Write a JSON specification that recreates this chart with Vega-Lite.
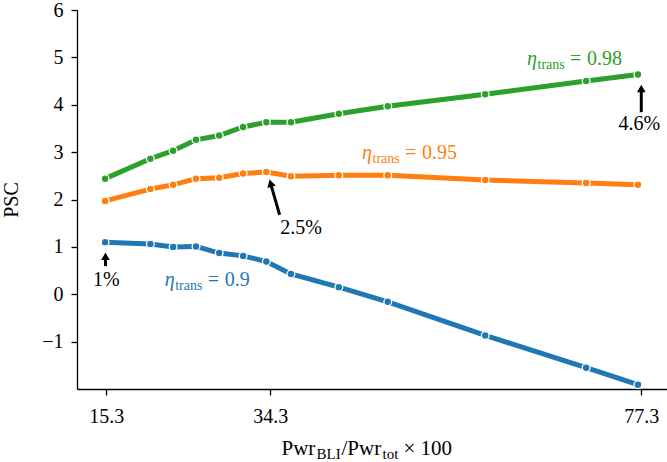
{
  "$schema": "https://vega.github.io/schema/vega-lite/v6.json",
  "width": 590,
  "height": 379,
  "autosize": {"type": "none"},
  "padding": {"left": 77, "top": 10, "right": 0, "bottom": 73},
  "background": "white",
  "config": {
    "view": {"stroke": null},
    "font": "Liberation Serif",
    "text": {"font": "Liberation Serif"},
    "axis": {
      "labelFont": "Liberation Serif",
      "titleFont": "Liberation Serif",
      "labelFontSize": 20,
      "titleFontSize": 20,
      "titleFontWeight": "normal",
      "labelColor": "black",
      "titleColor": "black",
      "domainColor": "black",
      "tickColor": "black",
      "domainWidth": 1.3,
      "tickWidth": 1.3,
      "tickSize": 6,
      "grid": false
    }
  },
  "datasets": {
    "series": [
      {"x": 15.16, "y": 1.10, "eta": "0.9"},
      {"x": 20.40, "y": 1.06, "eta": "0.9"},
      {"x": 23.04, "y": 1.00, "eta": "0.9"},
      {"x": 25.69, "y": 1.01, "eta": "0.9"},
      {"x": 28.38, "y": 0.87, "eta": "0.9"},
      {"x": 31.15, "y": 0.81, "eta": "0.9"},
      {"x": 33.84, "y": 0.69, "eta": "0.9"},
      {"x": 36.69, "y": 0.43, "eta": "0.9"},
      {"x": 42.24, "y": 0.15, "eta": "0.9"},
      {"x": 47.91, "y": -0.16, "eta": "0.9"},
      {"x": 59.21, "y": -0.87, "eta": "0.9"},
      {"x": 70.90, "y": -1.55, "eta": "0.9"},
      {"x": 76.90, "y": -1.91, "eta": "0.9"},
      {"x": 15.16, "y": 1.97, "eta": "0.95"},
      {"x": 20.40, "y": 2.22, "eta": "0.95"},
      {"x": 23.04, "y": 2.31, "eta": "0.95"},
      {"x": 25.69, "y": 2.44, "eta": "0.95"},
      {"x": 28.38, "y": 2.46, "eta": "0.95"},
      {"x": 31.15, "y": 2.55, "eta": "0.95"},
      {"x": 33.84, "y": 2.58, "eta": "0.95"},
      {"x": 36.69, "y": 2.49, "eta": "0.95"},
      {"x": 42.24, "y": 2.51, "eta": "0.95"},
      {"x": 47.91, "y": 2.51, "eta": "0.95"},
      {"x": 59.21, "y": 2.41, "eta": "0.95"},
      {"x": 70.90, "y": 2.35, "eta": "0.95"},
      {"x": 76.90, "y": 2.31, "eta": "0.95"},
      {"x": 15.16, "y": 2.44, "eta": "0.98"},
      {"x": 20.40, "y": 2.86, "eta": "0.98"},
      {"x": 23.04, "y": 3.03, "eta": "0.98"},
      {"x": 25.69, "y": 3.26, "eta": "0.98"},
      {"x": 28.38, "y": 3.35, "eta": "0.98"},
      {"x": 31.15, "y": 3.53, "eta": "0.98"},
      {"x": 33.84, "y": 3.63, "eta": "0.98"},
      {"x": 36.69, "y": 3.63, "eta": "0.98"},
      {"x": 42.24, "y": 3.81, "eta": "0.98"},
      {"x": 47.91, "y": 3.97, "eta": "0.98"},
      {"x": 59.21, "y": 4.22, "eta": "0.98"},
      {"x": 70.90, "y": 4.50, "eta": "0.98"},
      {"x": 76.90, "y": 4.64, "eta": "0.98"}
    ],
    "arrows": [
      {"id": "a1", "x": 15.2, "y": 0.594, "x2": 15.2, "y2": 0.78, "hx": 15.2, "hy": 0.8},
      {"id": "a2", "x": 35.38, "y": 1.677, "x2": 34.35, "y2": 2.331, "hx": 34.33, "hy": 2.345},
      {"id": "a3", "x": 77.29, "y": 3.843, "x2": 77.29, "y2": 4.32, "hx": 77.29, "hy": 4.345}
    ],
    "notes": [
      {"x": 13.75, "y": 0.174, "text": "1%"},
      {"x": 35.46, "y": 1.270, "text": "2.5%"},
      {"x": 74.66, "y": 3.459, "text": "4.6%"}
    ],
    "labels": [
      {"x": 22.06, "y": 0.174, "eta": "0.9", "value": "0.9"},
      {"x": 44.93, "y": 2.864, "eta": "0.95", "value": "0.95"},
      {"x": 64.05, "y": 4.834, "eta": "0.98", "value": "0.98"}
    ],
    "xtitle": [
      {"x": 35.6, "y": -3.4}
    ]
  },
  "layer": [
    {
      "data": {"name": "series"},
      "mark": {"type": "line", "strokeWidth": 5},
      "encoding": {
        "x": {
          "field": "x", "type": "quantitative",
          "scale": {"domain": [11.9, 80.27], "nice": false, "zero": false},
          "axis": {"values": [15.3, 34.3, 77.3], "format": ".1f", "title": null, "labelPadding": 11}
        },
        "y": {
          "field": "y", "type": "quantitative",
          "scale": {"domain": [-2, 6], "nice": false, "zero": false},
          "axis": {"values": [-1, 0, 1, 2, 3, 4, 5, 6], "title": "PSC", "labelPadding": 8, "titlePadding": 20}
        },
        "color": {
          "field": "eta", "type": "nominal",
          "scale": {"domain": ["0.9", "0.95", "0.98"], "range": ["#1f77b4", "#ff7f0e", "#2ca02c"]},
          "legend": null
        }
      }
    },
    {
      "data": {"name": "series"},
      "mark": {"type": "point", "filled": true, "size": 60, "stroke": "white", "strokeWidth": 1.3, "opacity": 1},
      "encoding": {
        "x": {"field": "x", "type": "quantitative"},
        "y": {"field": "y", "type": "quantitative"},
        "color": {"field": "eta", "type": "nominal", "legend": null}
      }
    },
    {
      "data": {"name": "arrows"},
      "mark": {"type": "rule", "strokeWidth": 3, "color": "black"},
      "encoding": {
        "x": {"field": "x", "type": "quantitative"},
        "y": {"field": "y", "type": "quantitative"},
        "x2": {"field": "x2"},
        "y2": {"field": "y2"}
      }
    },
    {
      "data": {"name": "arrows"},
      "transform": [{"filter": "datum.id !== 'a2'"}],
      "mark": {"type": "point", "shape": "triangle-up", "filled": true, "size": 75, "color": "black", "opacity": 1},
      "encoding": {
        "x": {"field": "hx", "type": "quantitative"},
        "y": {"field": "hy", "type": "quantitative"}
      }
    },
    {
      "data": {"name": "arrows"},
      "transform": [{"filter": "datum.id === 'a2'"}],
      "mark": {"type": "point", "shape": "triangle-up", "filled": true, "size": 75, "color": "black", "opacity": 1, "angle": 344},
      "encoding": {
        "x": {"field": "hx", "type": "quantitative"},
        "y": {"field": "hy", "type": "quantitative"}
      }
    },
    {
      "data": {"name": "notes"},
      "mark": {"type": "text", "font": "Liberation Serif", "align": "left", "baseline": "alphabetic", "fontSize": 20, "color": "black"},
      "encoding": {
        "x": {"field": "x", "type": "quantitative"},
        "y": {"field": "y", "type": "quantitative"},
        "text": {"field": "text"}
      }
    },
    {
      "data": {"name": "labels"},
      "mark": {"type": "text", "font": "Liberation Serif", "align": "left", "baseline": "alphabetic", "fontSize": 20, "fontStyle": "italic"},
      "encoding": {
        "x": {"field": "x", "type": "quantitative"},
        "y": {"field": "y", "type": "quantitative"},
        "color": {"field": "eta", "type": "nominal", "legend": null},
        "text": {"value": "η"}
      }
    },
    {
      "data": {"name": "labels"},
      "mark": {"type": "text", "font": "Liberation Serif", "align": "left", "baseline": "alphabetic", "fontSize": 14, "dx": 10.5, "dy": 4},
      "encoding": {
        "x": {"field": "x", "type": "quantitative"},
        "y": {"field": "y", "type": "quantitative"},
        "color": {"field": "eta", "type": "nominal", "legend": null},
        "text": {"value": "trans"}
      }
    },
    {
      "data": {"name": "labels"},
      "mark": {"type": "text", "font": "Liberation Serif", "align": "left", "baseline": "alphabetic", "fontSize": 20, "dx": 43},
      "encoding": {
        "x": {"field": "x", "type": "quantitative"},
        "y": {"field": "y", "type": "quantitative"},
        "color": {"field": "eta", "type": "nominal", "legend": null},
        "text": {"value": "="}
      }
    },
    {
      "data": {"name": "labels"},
      "mark": {"type": "text", "font": "Liberation Serif", "align": "left", "baseline": "alphabetic", "fontSize": 20, "dx": 60},
      "encoding": {
        "x": {"field": "x", "type": "quantitative"},
        "y": {"field": "y", "type": "quantitative"},
        "color": {"field": "eta", "type": "nominal", "legend": null},
        "text": {"field": "value"}
      }
    },
    {
      "data": {"name": "xtitle"},
      "mark": {"type": "text", "font": "Liberation Serif", "align": "left", "baseline": "alphabetic", "fontSize": 21, "color": "black"},
      "encoding": {
        "x": {"field": "x", "type": "quantitative"},
        "y": {"field": "y", "type": "quantitative"},
        "text": {"value": "Pwr"}
      }
    },
    {
      "data": {"name": "xtitle"},
      "mark": {"type": "text", "font": "Liberation Serif", "align": "left", "baseline": "alphabetic", "fontSize": 15, "color": "black", "dx": 35, "dy": 4},
      "encoding": {
        "x": {"field": "x", "type": "quantitative"},
        "y": {"field": "y", "type": "quantitative"},
        "text": {"value": "BLI"}
      }
    },
    {
      "data": {"name": "xtitle"},
      "mark": {"type": "text", "font": "Liberation Serif", "align": "left", "baseline": "alphabetic", "fontSize": 21, "color": "black", "dx": 60},
      "encoding": {
        "x": {"field": "x", "type": "quantitative"},
        "y": {"field": "y", "type": "quantitative"},
        "text": {"value": "/Pwr"}
      }
    },
    {
      "data": {"name": "xtitle"},
      "mark": {"type": "text", "font": "Liberation Serif", "align": "left", "baseline": "alphabetic", "fontSize": 15, "color": "black", "dx": 101, "dy": 4},
      "encoding": {
        "x": {"field": "x", "type": "quantitative"},
        "y": {"field": "y", "type": "quantitative"},
        "text": {"value": "tot"}
      }
    },
    {
      "data": {"name": "xtitle"},
      "mark": {"type": "text", "font": "Liberation Serif", "align": "left", "baseline": "alphabetic", "fontSize": 21, "color": "black", "dx": 122},
      "encoding": {
        "x": {"field": "x", "type": "quantitative"},
        "y": {"field": "y", "type": "quantitative"},
        "text": {"value": "× 100"}
      }
    }
  ]
}
